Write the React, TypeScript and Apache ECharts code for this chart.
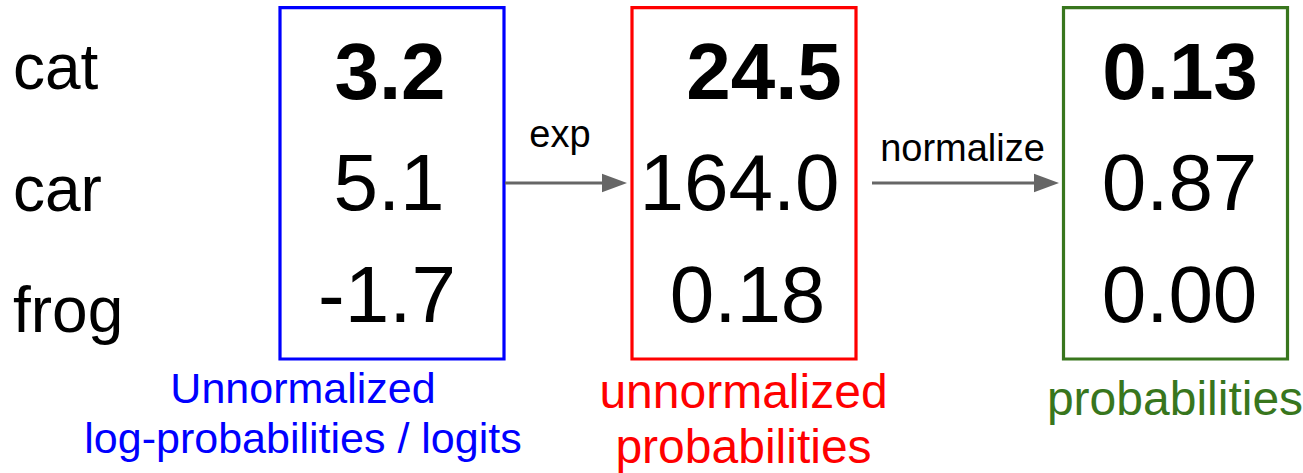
import React, { useEffect, useRef } from "react";
import * as echarts from "echarts";

// ---- data ----
const categories = ["cat", "car", "frog"];
const logits = ["3.2", "5.1", "-1.7"];
const unnormProbs = ["24.5", "164.0", "0.18"];
const probs = ["0.13", "0.87", "0.00"];
const boldRow = 0;
const stepLabels = ["exp", "normalize"];
const boxCaptions = [
  ["Unnormalized", "log-probabilities / logits"],
  ["unnormalized", "probabilities"],
  ["probabilities"],
];

// ---- layout / style ----
const FONT = "'Liberation Sans', Arial, Helvetica, sans-serif";
const boxColors = ["#0000ff", "#ff0000", "#38761d"];
const boxLeft = [280, 632, 1063.5];
const boxWidth = 224;
const boxTop = 7.7;
const boxHeight = 351.3;
const labelBaselines = [89, 211, 332];
const valueBaselines = [99, 210, 322];
const valueCenters = [
  [390, 389, 387],
  [764, 739.5, 747.5],
  [1180, 1179.5, 1179.5],
];
const captionBaselines = [
  [403, 453],
  [408, 463],
  [415],
];
const captionSizes = [43, 48, 48];
const captionCenters = [303, 743.5, 1175];
const arrowY = 183;
const arrows = [
  { from: 505, to: 627, label: 560, base: 147 },
  { from: 872, to: 1059, label: 962.5, base: 161 },
];

function txt(
  text: string,
  x: number,
  baseline: number,
  size: number,
  fill: string,
  bold = false,
  align = "center"
) {
  return {
    type: "text",
    x,
    y: baseline - 0.3465 * size,
    silent: true,
    style: {
      text,
      fill,
      fontSize: size,
      fontFamily: FONT,
      fontWeight: bold ? "bold" : "normal",
      align,
      verticalAlign: "middle",
      textAlign: align,
      textVerticalAlign: "middle",
    },
  };
}

export default function App() {
  const ref = useRef<HTMLDivElement>(null);
  useEffect(() => {
    if (!ref.current) return;
    const chart = echarts.init(ref.current, undefined, { renderer: "svg" });
    const elements: any[] = [];

    categories.forEach((c, i) => {
      elements.push(txt(c, 13, labelBaselines[i], 64, "#000000", false, "left"));
    });

    const columns = [logits, unnormProbs, probs];
    columns.forEach((col, ci) => {
      elements.push({
        type: "rect",
        shape: { x: boxLeft[ci], y: boxTop, width: boxWidth, height: boxHeight },
        style: { fill: "none", stroke: boxColors[ci], lineWidth: 3.2 },
        silent: true,
      });
      col.forEach((v, ri) => {
        elements.push(
          txt(v, valueCenters[ci][ri], valueBaselines[ri], 80, "#000000", ri === boldRow)
        );
      });
      boxCaptions[ci].forEach((line, li) => {
        elements.push(
          txt(line, captionCenters[ci], captionBaselines[ci][li], captionSizes[ci], boxColors[ci])
        );
      });
    });

    arrows.forEach((a, i) => {
      const headLen = 25;
      const half = 9.3;
      elements.push({
        type: "line",
        shape: { x1: a.from, y1: arrowY, x2: a.to - headLen + 2, y2: arrowY },
        style: { stroke: "#666666", lineWidth: 3 },
        silent: true,
      });
      elements.push({
        type: "polygon",
        shape: {
          points: [
            [a.to - headLen, arrowY - half],
            [a.to, arrowY],
            [a.to - headLen, arrowY + half],
          ],
        },
        style: { fill: "#666666" },
        silent: true,
      });
      elements.push(txt(stepLabels[i], a.label, a.base, 38, "#000000"));
    });

    chart.setOption({
      animation: false,
      backgroundColor: "#ffffff",
      graphic: { elements },
    });
    return () => chart.dispose();
  }, []);
  return <div ref={ref} style={{ width: 1303, height: 473, position: "absolute", left: 0, top: 0 }} />;
}
